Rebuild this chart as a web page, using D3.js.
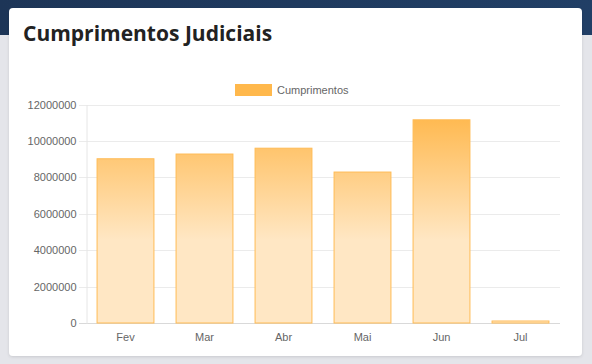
<!DOCTYPE html>
<html>
<head>
<meta charset="utf-8">
<script src="https://cdn.jsdelivr.net/npm/d3@7"></script>
<style>
  html, body { margin: 0; padding: 0; background: #e4e5ea; }
  svg { display: block; }
</style>
</head>
<body>
<svg id="chart" width="592" height="364"></svg>
<script>
// data
var months = ["Fev", "Mar", "Abr", "Mai", "Jun", "Jul"];
var cumprimentos = [9020000, 9280000, 9600000, 8290000, 11160000, 110000];
var yTicks = [0, 2000000, 4000000, 6000000, 8000000, 10000000, 12000000];
var seriesName = "Cumprimentos";
var title = "Cumprimentos Judiciais";

var svg = d3.select("#chart");
var width = 592, height = 364;
var margin = { top: 104.5, right: 32, bottom: 41, left: 86 };

var defs = svg.append("defs");

// top banner
var band = defs.append("linearGradient").attr("id", "band")
  .attr("x1", 0).attr("x2", 1).attr("y1", 0).attr("y2", 0);
band.append("stop").attr("offset", "0%").attr("stop-color", "#1d3557");
band.append("stop").attr("offset", "100%").attr("stop-color", "#213f66");

var shadow = defs.append("filter").attr("id", "shadow")
  .attr("x", "-5%").attr("y", "-5%").attr("width", "110%").attr("height", "115%");
shadow.append("feDropShadow").attr("dx", 0).attr("dy", 1).attr("stdDeviation", 1.5)
  .attr("flood-color", "#000").attr("flood-opacity", 0.12);

// bar fill, in chart space so all bars share it
var barGrad = defs.append("linearGradient").attr("id", "barGrad")
  .attr("gradientUnits", "userSpaceOnUse")
  .attr("x1", 0).attr("x2", 0).attr("y1", 104).attr("y2", 240);
barGrad.append("stop").attr("offset", "0%").attr("stop-color", "#ffb443");
barGrad.append("stop").attr("offset", "100%").attr("stop-color", "#ffe7c4");

svg.append("rect").attr("width", width).attr("height", height).attr("fill", "#e4e5ea");
svg.append("rect").attr("width", width).attr("height", 35).attr("fill", "url(#band)");

svg.append("rect")
  .attr("x", 9).attr("y", 8).attr("width", 573).attr("height", 348)
  .attr("rx", 4).attr("fill", "#fff")
  .attr("filter", "url(#shadow)");

svg.append("text")
  .attr("x", 23).attr("y", 41)
  .attr("font-family", "'Open Sans', sans-serif")
  .attr("font-weight", 700)
  .attr("font-size", "21px")
  .attr("fill", "#222")
  .text(title);

var x = d3.scaleBand()
  .domain(months)
  .range([margin.left, width - margin.right]);

var y = d3.scaleLinear()
  .domain([0, 12000000])
  .range([height - margin.bottom, margin.top]);

// gridlines
svg.append("g")
  .selectAll("line")
  .data(yTicks)
  .join("line")
  .attr("x1", margin.left - 7)
  .attr("x2", width - margin.right)
  .attr("y1", d => Math.round(y(d)) + 0.5)
  .attr("y2", d => Math.round(y(d)) + 0.5)
  .attr("stroke", d => d === 0 ? "#d9d9d9" : "#ebebeb")
  .attr("stroke-width", 1);

// y axis
var yAxis = svg.append("g")
  .attr("transform", `translate(${margin.left + 0.5},0)`)
  .call(d3.axisLeft(y).tickValues(yTicks).tickFormat(d3.format("d")).tickSize(0).tickPadding(10));
yAxis.select(".domain").attr("stroke", "#e6e6e6");
yAxis.selectAll("text")
  .attr("font-family", "'Liberation Sans', Arial, sans-serif")
  .attr("font-size", "11px")
  .attr("fill", "#666");

// x axis
var xAxis = svg.append("g")
  .attr("transform", `translate(0,${height - margin.bottom})`)
  .call(d3.axisBottom(x).tickSize(0).tickPadding(10));
xAxis.select(".domain").remove();
xAxis.selectAll("text")
  .attr("font-family", "'Liberation Sans', Arial, sans-serif")
  .attr("font-size", "11px")
  .attr("fill", "#666");

// bars
var barW = x.bandwidth() * 0.72;
svg.append("g")
  .selectAll("rect")
  .data(cumprimentos)
  .join("rect")
  .attr("x", (d, i) => x(months[i]) + (x.bandwidth() - barW) / 2)
  .attr("y", d => y(d))
  .attr("width", barW)
  .attr("height", d => y(0) - y(d))
  .attr("fill", "url(#barGrad)")
  .attr("stroke", "#ffbb55")
  .attr("stroke-width", 1);

// legend
var legend = svg.append("g").attr("transform", "translate(235,84)");
legend.append("rect")
  .attr("width", 37).attr("height", 12)
  .attr("fill", "#ffb84c");
legend.append("text")
  .attr("x", 42).attr("y", 10)
  .attr("font-family", "'Liberation Sans', Arial, sans-serif")
  .attr("font-size", "11px")
  .attr("fill", "#666")
  .text(seriesName);
</script>
</body>
</html>
